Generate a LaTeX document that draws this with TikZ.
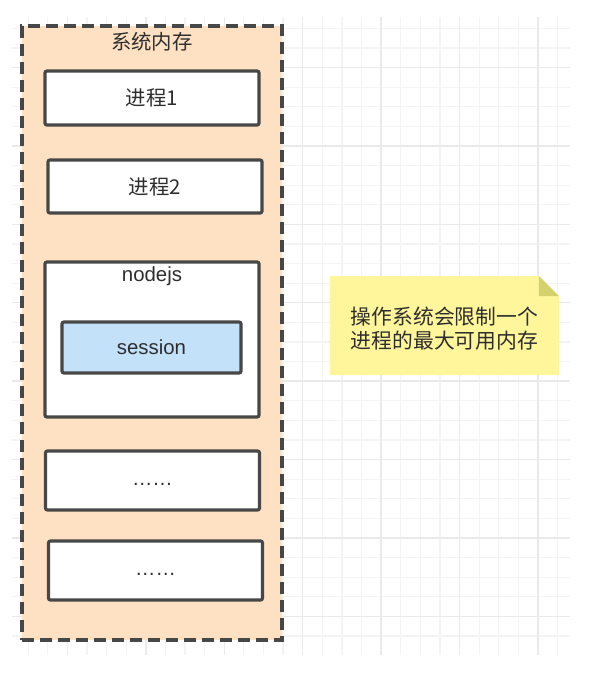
\documentclass[tikz,border=0pt]{standalone}
\usepackage{fontspec}
\setmainfont{Liberation Sans}
\newfontfamily\cjk{Noto Sans CJK SC}
\definecolor{gridminor}{HTML}{F4F4F4}
\definecolor{gridmajor}{HTML}{EAEAEA}
\definecolor{memfill}{HTML}{FDE1C2}
\definecolor{edgegray}{HTML}{474747}
\definecolor{textgray}{HTML}{2E2E2E}
\definecolor{sessionblue}{HTML}{C4E1FA}
\definecolor{notefill}{HTML}{FFF59A}
\definecolor{notefold}{HTML}{D5D16C}
\begin{document}
\begin{tikzpicture}[x=0.5pt,y=-0.5pt,
	every node/.style={font=\fontsize{10.2}{12}\selectfont,text=textgray},
	memory/.style={draw=edgegray,fill=memfill,line width=1.7pt,dash pattern=on 6pt off 3pt},
	proc/.style={draw=edgegray,fill=white,line width=1.6pt,rounded corners=1pt,minimum width=107pt},
	sess/.style={proc,fill=sessionblue,minimum width=89.5pt}]
	\useasboundingbox[fill=white] (0,0) rectangle (608,693);
	%grid
	\foreach \i in {0,...,27} \draw[gridminor,line width=0.6pt] ({28.3+19.6*\i},17) -- ({28.3+19.6*\i},655);
	\foreach \j in {0,...,31} \draw[gridminor,line width=0.6pt] (11.7,{28.3+19.6*\j}) -- (570,{28.3+19.6*\j});
	%%major lines
	\foreach \i in {2,6,...,26} \draw[gridmajor,line width=0.7pt] ({28.3+19.6*\i},17) -- ({28.3+19.6*\i},655);
	\foreach \j in {2,6,...,30} \draw[gridmajor,line width=0.7pt] (11.7,{28.3+19.6*\j}) -- (570,{28.3+19.6*\j});
	%system memory
	\node[memory,minimum width=130pt,minimum height=307pt] (mem) at (152,333) {};
	\node (memtitle) at (152,42) {\cjk 系统内存};
	%processes
	\node[proc,minimum height=27pt] (proc1) at (152,98) {\cjk 进程1};
	\node[proc,minimum height=26.5pt] (proc2) at (155,186.5) {\cjk 进程2};
	%%nodejs
	\node[proc,minimum height=77.5pt] (nodejs) at (152,339.5) {};
	\node (nodejstitle) at (152,276) {nodejs};
	\node[sess,minimum height=25.5pt] (session) at (151.5,347.5) {session};
	%%others
	\node[proc,minimum height=29.5pt] (dots1) at (152.5,480.5) {\strut ……};
	\node[proc,minimum height=29.5pt] (dots2) at (155.5,570.5) {\strut ……};
	%note
	\fill[notefill] (330,276) -- (539,276) -- (559,296) -- (559,375) -- (330,375) -- cycle;
	\fill[notefold] (539,276) -- (539,296) -- (559,296) -- cycle;
	\node[align=center,font=\fontsize{10.4}{11.6}\selectfont] (note) at (444.5,328.5) {\cjk 操作系统会限制一个\\\cjk 进程的最大可用内存};
\end{tikzpicture}
\end{document}
